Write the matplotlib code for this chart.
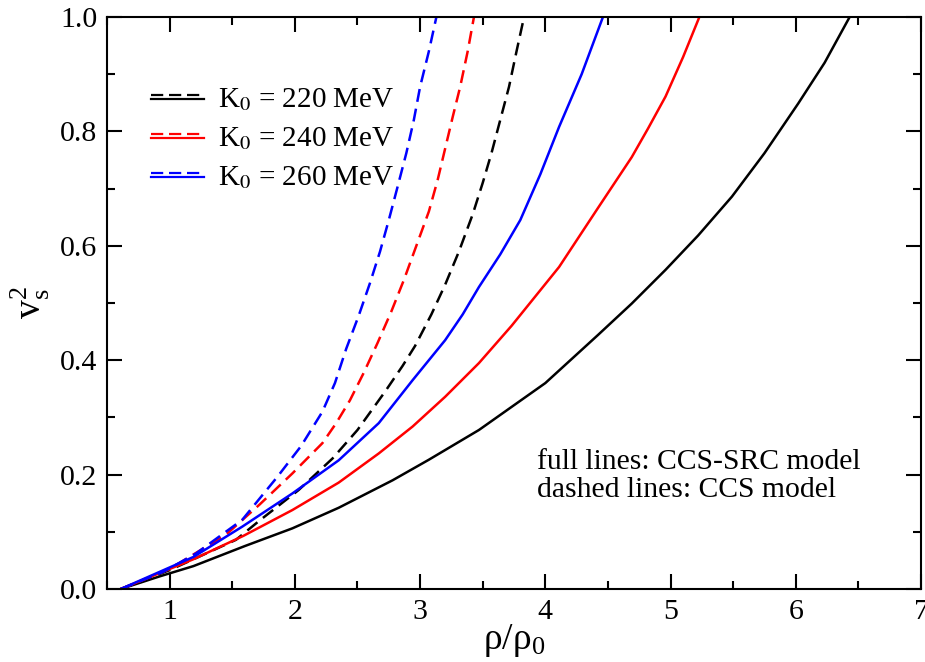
import numpy as np
import matplotlib
matplotlib.use('Agg')
import matplotlib.pyplot as plt
from matplotlib.lines import Line2D
from matplotlib.legend_handler import HandlerBase

plt.rcParams['font.family'] = ['Liberation Serif', 'DejaVu Serif']
plt.rcParams['mathtext.fontset'] = 'stix'

# values: rho/rho0 and v_s^2
# full lines: CCS-SRC model
x_src_220 = [0.61, 0.92, 1.19, 1.60, 1.98, 2.35, 2.78, 3.07, 3.47, 4.00, 4.42, 4.69, 4.96, 5.22, 5.49, 5.75, 6.02, 6.23, 6.43]
v_src_220 = [0.0, 0.022, 0.040, 0.075, 0.106, 0.142, 0.190, 0.226, 0.278, 0.360, 0.444, 0.499, 0.558, 0.618, 0.686, 0.762, 0.849, 0.920, 1.0]

x_src_240 = [0.61, 1.19, 1.59, 1.98, 2.35, 2.67, 2.94, 3.20, 3.47, 3.73, 4.11, 4.42, 4.69, 4.82, 4.96, 5.10, 5.23]
v_src_240 = [0.0, 0.052, 0.093, 0.138, 0.186, 0.237, 0.284, 0.336, 0.395, 0.460, 0.563, 0.666, 0.755, 0.805, 0.861, 0.930, 1.0]

x_src_260 = [0.61, 1.19, 1.58, 1.98, 2.35, 2.67, 2.94, 3.20, 3.34, 3.47, 3.64, 3.80, 3.96, 4.11, 4.29, 4.46]
v_src_260 = [0.0, 0.056, 0.109, 0.167, 0.225, 0.290, 0.365, 0.435, 0.480, 0.528, 0.585, 0.645, 0.725, 0.808, 0.900, 1.0]

# dashed lines: CCS model
x_ccs_220 = [0.61, 1.00, 1.53, 1.72, 2.03, 2.30, 2.50, 2.72, 2.86, 2.96, 3.09, 3.20, 3.31, 3.42, 3.50, 3.57, 3.64, 3.71, 3.77, 3.83]
v_ccs_220 = [0.0, 0.033, 0.086, 0.120, 0.173, 0.228, 0.278, 0.345, 0.390, 0.425, 0.480, 0.532, 0.590, 0.655, 0.710, 0.762, 0.820, 0.878, 0.940, 1.0]

x_ccs_240 = [0.61, 1.00, 1.45, 1.72, 1.98, 2.22, 2.33, 2.44, 2.55, 2.66, 2.77, 2.87, 2.97, 3.07, 3.14, 3.20, 3.26, 3.32, 3.38, 3.43]
v_ccs_240 = [0.0, 0.035, 0.095, 0.148, 0.202, 0.255, 0.290, 0.330, 0.378, 0.430, 0.485, 0.540, 0.600, 0.660, 0.715, 0.770, 0.825, 0.878, 0.940, 1.0]

x_ccs_260 = [0.61, 0.95, 1.21, 1.58, 1.86, 2.05, 2.22, 2.32, 2.41, 2.51, 2.60, 2.68, 2.75, 2.82, 2.89, 2.95, 3.00, 3.07, 3.13]
v_ccs_260 = [0.0, 0.030, 0.062, 0.121, 0.196, 0.250, 0.310, 0.360, 0.420, 0.478, 0.535, 0.590, 0.645, 0.703, 0.762, 0.820, 0.878, 0.940, 1.0]

labels = ['K$_0$ = 220 MeV', 'K$_0$ = 240 MeV', 'K$_0$ = 260 MeV']
colors = ['black', 'red', 'blue']

LW = 1.8
DASH = (0, (5.2, 2.8))


class DoubleLine(HandlerBase):
    # dashed line on top of a full line, like the original key
    def create_artists(self, legend, orig_handle, xdescent, ydescent,
                       width, height, fontsize, trans):
        c = orig_handle.get_color()
        ym = height / 2 - ydescent
        d = 1.5
        top = Line2D([-xdescent, width - xdescent], [ym + d, ym + d], color=c,
                     lw=1.6, ls=(0, (5.5, 2.6)), transform=trans)
        bot = Line2D([-xdescent, width - xdescent], [ym - d, ym - d], color=c,
                     lw=1.6, transform=trans)
        return [top, bot]


fig = plt.figure(figsize=(9.25, 6.62), dpi=100)
ax = fig.add_axes([0.1157, 0.1103, 0.8800, 0.8640])

handles = []
for xs, vs, xd, vd, c in [(x_src_220, v_src_220, x_ccs_220, v_ccs_220, colors[0]),
                          (x_src_240, v_src_240, x_ccs_240, v_ccs_240, colors[1]),
                          (x_src_260, v_src_260, x_ccs_260, v_ccs_260, colors[2])]:
    ax.plot(xs, vs, color=c, lw=LW, solid_joinstyle='round')
    h, = ax.plot(xd, vd, color=c, lw=LW, ls=DASH)
    handles.append(h)

ax.set_xlim(0.5, 7)
ax.set_ylim(0, 1)
ax.set_xticks([1, 2, 3, 4, 5, 6, 7])
ax.set_xticks(np.arange(0.5, 7.01, 0.5), minor=True)
ax.set_yticks(np.arange(0, 1.01, 0.2))
ax.set_yticks(np.arange(0, 1.01, 0.1), minor=True)
ax.set_yticklabels(['0.0', '0.2', '0.4', '0.6', '0.8', '1.0'])
ax.tick_params(which='both', direction='in', top=True, right=True, width=1.5,
               labelsize=21.5)
ax.tick_params(which='major', length=11, pad=7)
ax.tick_params(which='minor', length=6)
for s in ax.spines.values():
    s.set_linewidth(1.5)

ax.set_xlabel(r'$\mathregular{\rho/\rho_0}$', fontsize=27, labelpad=-2)
ax.set_ylabel(r'$\mathregular{v_s^2}$', fontsize=27, labelpad=6)

ax.legend(handles, labels, handler_map={h: DoubleLine() for h in handles},
          loc='upper left', bbox_to_anchor=(0.022, 0.925), frameon=False,
          fontsize=21, handlelength=1.8, handletextpad=0.5, labelspacing=0.42)

ax.text(0.528, 0.245, 'full lines: CCS-SRC model\ndashed lines: CCS model',
        transform=ax.transAxes, fontsize=21.3, va='top', ha='left', linespacing=1.1)

fig.savefig('out.png', dpi=100)
